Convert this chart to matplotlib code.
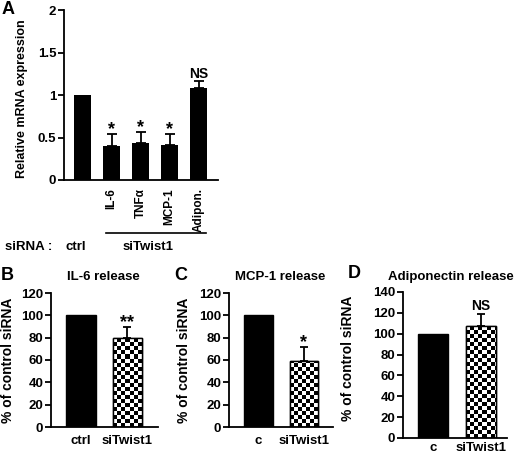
import numpy as np
import matplotlib
matplotlib.use('Agg')
import matplotlib.pyplot as plt
from matplotlib.lines import Line2D

plt.rcParams['font.family'] = ['Liberation Sans', 'DejaVu Sans']
plt.rcParams['font.weight'] = 'bold'
plt.rcParams['axes.linewidth'] = 1.3
plt.rcParams['axes.labelweight'] = 'bold'

# panel A: relative mRNA expression
genes = ['', 'IL-6', 'TNFα', 'MCP-1', 'Adipon.']
mrna = [1.0, 0.40, 0.44, 0.41, 1.08]
mrna_err = [0, 0.14, 0.12, 0.13, 0.08]
mrna_sig = ['', '*', '*', '*', 'NS']

# panels B-D: secreted protein, % of control siRNA
il6_labels = ['ctrl', 'siTwist1']
il6_rel = [100, 80]
il6_err = [0, 10]
il6_sig = ['', '**']

mcp1_labels = ['c', 'siTwist1']
mcp1_rel = [100, 59]
mcp1_err = [0, 13]
mcp1_sig = ['', '*']

adipo_labels = ['c', 'siTwist1']
adipo_rel = [100, 107]
adipo_err = [0, 12]
adipo_sig = ['', 'NS']

W, H = 520, 453
fig = plt.figure(figsize=(W / 100, H / 100), dpi=100)


def px_axes(l, r, t, b):
    return fig.add_axes([l / W, 1 - b / H, (r - l) / W, (b - t) / H])


def style(ax):
    for s in ['top', 'right']:
        ax.spines[s].set_visible(False)
    ax.tick_params(axis='y', direction='out', length=4, width=1.3, pad=1.5, labelsize=9.5)
    ax.tick_params(axis='x', length=0, labelsize=9.5)


def checker(ax, bar, px=4):
    xl, yl = ax.get_xlim(), ax.get_ylim()
    bb = ax.get_window_extent()
    dx = (xl[1] - xl[0]) / bb.width * px
    dy = (yl[1] - yl[0]) / bb.height * px
    x0 = bar.get_x()
    nx = int(np.ceil(bar.get_width() / dx)) + 1
    ny = int(np.ceil(bar.get_height() / dy)) + 1
    ii, jj = np.indices((ny, nx))
    board = (ii + jj) % 2
    im = ax.imshow(board, cmap='gray', origin='lower', interpolation='nearest',
                   extent=(x0, x0 + nx * dx, 0, ny * dy), aspect='auto', zorder=2.5)
    im.set_clip_path(bar)
    ax.set_xlim(xl)
    ax.set_ylim(yl)


def errs(ax, x, vals, err, capsize):
    for xi, v, e in zip(x, vals, err):
        if e > 0:
            ax.errorbar(xi, v, yerr=[[0], [e]], fmt='none', ecolor='black',
                        elinewidth=1.3, capsize=capsize, capthick=1.3, zorder=1)


# ---- panel A ----
axA = px_axes(64, 218, 10, 180)
style(axA)
xa = np.arange(len(genes))
axA.bar(xa, mrna, width=0.59, color='black', zorder=2)
errs(axA, xa, mrna, mrna_err, 3.5)
for xi, v, e, s in zip(xa, mrna, mrna_err, mrna_sig):
    if s == '*':
        axA.annotate(s, (xi, v + e), xytext=(0, -3), textcoords='offset points',
                     ha='center', va='bottom', fontsize=13)
    elif s:
        axA.annotate(s, (xi, v + e), xytext=(0, 0.5), textcoords='offset points',
                     ha='center', va='bottom', fontsize=10)
axA.set_xlim(-0.64, 4.67)
axA.set_ylim(0, 2)
axA.set_yticks([0, 0.5, 1, 1.5, 2])
axA.set_yticklabels(['0', '0.5', '1', '1.5', '2'])
axA.set_xticks(xa)
axA.set_xticklabels(genes, rotation=90, va='top', fontsize=8.5)
axA.tick_params(axis='x', pad=6)
axA.set_ylabel('Relative mRNA expression', fontsize=9)
axA.yaxis.set_label_coords(-0.234, 0.48)

fig.text(5 / W, 1 - 247 / H, 'siRNA :', fontsize=9.5, va='center', ha='left')
fig.text(76 / W, 1 - 247 / H, 'ctrl', fontsize=9.5, va='center', ha='center')
fig.text(148 / W, 1 - 247 / H, 'siTwist1', fontsize=9.5, va='center', ha='center')
fig.add_artist(Line2D([106 / W, 206 / W], [1 - 233 / H, 1 - 233 / H], color='black', lw=1.2))

# ---- panels B-D ----
panels = [
    (il6_labels, il6_rel, il6_err, il6_sig, 'IL-6 release', (51, 158, 293, 427), 120,
     (-0.65, 1.67), (0.49, 1.12), (-0.34, 0.5), 6),
    (mcp1_labels, mcp1_rel, mcp1_err, mcp1_sig, 'MCP-1 release', (229, 333, 293, 427), 120,
     (-0.65, 1.64), (0.49, 1.116), (-0.37, 0.5), 6),
    (adipo_labels, adipo_rel, adipo_err, adipo_sig, 'Adiponectin release', (403, 507, 292, 438), 140,
     (-0.63, 1.54), (0.46, 1.10), (-0.457, 0.545), 3),
]

for labels, vals, err, sig, title, box, ymax, xlim, tpos, lpos, xpad in panels:
    ax = px_axes(*box)
    style(ax)
    x = np.arange(len(labels))
    ax.set_xlim(*xlim)
    ax.set_ylim(0, ymax)
    bars = ax.bar(x, vals, width=0.63, color=['black', 'white'], edgecolor='black',
                  linewidth=1.0, zorder=2)
    checker(ax, bars[1])
    ax.bar(x[1], vals[1], width=0.63, fill=False, edgecolor='black', linewidth=1.0, zorder=3)
    errs(ax, x, vals, err, 3)
    for xi, v, e, s in zip(x, vals, err, sig):
        if s.startswith('*'):
            ax.annotate(s, (xi, v + e), xytext=(0, -3), textcoords='offset points',
                        ha='center', va='bottom', fontsize=13)
        elif s:
            ax.annotate(s, (xi, v + e), xytext=(0, 1), textcoords='offset points',
                        ha='center', va='bottom', fontsize=10)
    ax.set_yticks(np.arange(0, ymax + 1, 20))
    ax.set_xticks(x)
    ax.set_xticklabels(labels)
    ax.tick_params(axis='x', pad=xpad)
    ax.set_ylabel('% of control siRNA', fontsize=10)
    ax.yaxis.set_label_coords(*lpos)
    ax.text(tpos[0], tpos[1], title, transform=ax.transAxes, ha='center', va='center',
            fontsize=9.5)

for letter, (lx, ly) in zip('ABCD', [(8, 9), (7, 276), (181, 276), (354, 274)]):
    fig.text(lx / W, 1 - ly / H, letter, fontsize=13, ha='center', va='center')

fig.savefig('out.png', dpi=100)
